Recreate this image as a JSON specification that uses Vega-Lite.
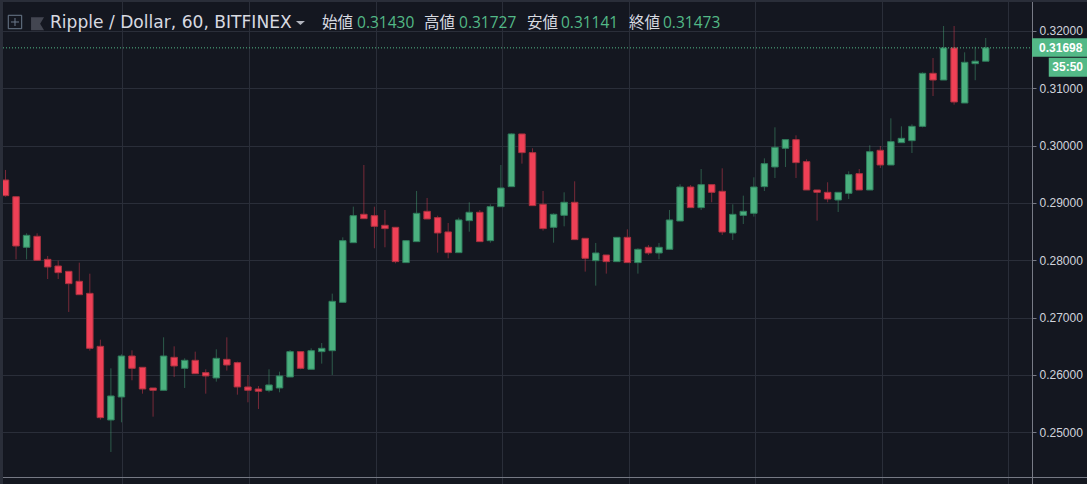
{
  "$schema": "https://vega.github.io/schema/vega-lite/v6.json",
  "description": "Ripple / Dollar 60 minute candles on Bitfinex",
  "autosize": "none",
  "background": "#141720",
  "width": 1032,
  "height": 484,
  "padding": {"left": 0, "top": 0, "right": 55, "bottom": 0},
  "config": {"view": {"stroke": null}, "scale": {"continuousPadding": 0}},
  "datasets": {
    "candles": [
      {"i":1,"o":0.29401,"h":0.29576,"l":0.2911,"c":0.29128},
      {"i":2,"o":0.2911,"h":0.2911,"l":0.28017,"c":0.2825},
      {"i":3,"o":0.28227,"h":0.28471,"l":0.28017,"c":0.28436},
      {"i":4,"o":0.28419,"h":0.28471,"l":0.27994,"c":0.28},
      {"i":5,"o":0.28017,"h":0.28076,"l":0.27674,"c":0.27884},
      {"i":6,"o":0.27901,"h":0.27994,"l":0.27674,"c":0.27785},
      {"i":7,"o":0.27808,"h":0.27808,"l":0.27099,"c":0.27593},
      {"i":8,"o":0.27634,"h":0.27959,"l":0.27401,"c":0.27401},
      {"i":9,"o":0.27424,"h":0.27767,"l":0.26424,"c":0.26465},
      {"i":10,"o":0.265,"h":0.26616,"l":0.25221,"c":0.25256},
      {"i":11,"o":0.25215,"h":0.26116,"l":0.24657,"c":0.25634},
      {"i":12,"o":0.25616,"h":0.2636,"l":0.25174,"c":0.26331},
      {"i":13,"o":0.26331,"h":0.2643,"l":0.25907,"c":0.26116},
      {"i":14,"o":0.26134,"h":0.26134,"l":0.25674,"c":0.25756},
      {"i":15,"o":0.25773,"h":0.25773,"l":0.25273,"c":0.25733},
      {"i":16,"o":0.25733,"h":0.26657,"l":0.25733,"c":0.26331},
      {"i":17,"o":0.26308,"h":0.265,"l":0.25965,"c":0.26157},
      {"i":18,"o":0.26116,"h":0.26291,"l":0.25773,"c":0.26256},
      {"i":19,"o":0.26256,"h":0.26407,"l":0.26017,"c":0.26023},
      {"i":20,"o":0.26041,"h":0.26099,"l":0.25674,"c":0.25983},
      {"i":21,"o":0.25948,"h":0.26448,"l":0.25884,"c":0.26291},
      {"i":22,"o":0.26273,"h":0.26657,"l":0.26076,"c":0.26174},
      {"i":23,"o":0.26215,"h":0.26233,"l":0.25657,"c":0.25791},
      {"i":24,"o":0.25791,"h":0.26,"l":0.25523,"c":0.25733},
      {"i":25,"o":0.25756,"h":0.25808,"l":0.25407,"c":0.25715},
      {"i":26,"o":0.25733,"h":0.26099,"l":0.25698,"c":0.25826},
      {"i":27,"o":0.25773,"h":0.26058,"l":0.25698,"c":0.25983},
      {"i":28,"o":0.25965,"h":0.26436,"l":0.25965,"c":0.26407},
      {"i":29,"o":0.26407,"h":0.26407,"l":0.26099,"c":0.26116},
      {"i":30,"o":0.26099,"h":0.26465,"l":0.26099,"c":0.26424},
      {"i":31,"o":0.26407,"h":0.26558,"l":0.26198,"c":0.26465},
      {"i":32,"o":0.26424,"h":0.27419,"l":0.26,"c":0.27285},
      {"i":33,"o":0.27267,"h":0.28401,"l":0.27267,"c":0.28343},
      {"i":34,"o":0.28308,"h":0.28936,"l":0.28308,"c":0.28779},
      {"i":35,"o":0.28803,"h":0.29663,"l":0.28727,"c":0.28727},
      {"i":36,"o":0.28779,"h":0.28936,"l":0.2821,"c":0.28593},
      {"i":37,"o":0.28611,"h":0.28878,"l":0.28227,"c":0.28553},
      {"i":38,"o":0.28576,"h":0.28576,"l":0.27948,"c":0.27977},
      {"i":39,"o":0.2796,"h":0.28355,"l":0.2796,"c":0.28343},
      {"i":40,"o":0.28326,"h":0.2921,"l":0.28326,"c":0.2882},
      {"i":41,"o":0.28855,"h":0.29088,"l":0.28721,"c":0.28721},
      {"i":42,"o":0.28745,"h":0.28779,"l":0.28134,"c":0.28477},
      {"i":43,"o":0.28495,"h":0.28651,"l":0.28035,"c":0.28134},
      {"i":44,"o":0.28134,"h":0.28745,"l":0.28134,"c":0.28704},
      {"i":45,"o":0.28692,"h":0.29012,"l":0.285,"c":0.28838},
      {"i":46,"o":0.28838,"h":0.28878,"l":0.28326,"c":0.28326},
      {"i":47,"o":0.28343,"h":0.28977,"l":0.28308,"c":0.28936},
      {"i":48,"o":0.28936,"h":0.29663,"l":0.28936,"c":0.29262},
      {"i":49,"o":0.29285,"h":0.30215,"l":0.29285,"c":0.30204},
      {"i":50,"o":0.30204,"h":0.30204,"l":0.29686,"c":0.29878},
      {"i":51,"o":0.29878,"h":0.29954,"l":0.28954,"c":0.28954},
      {"i":52,"o":0.28977,"h":0.2921,"l":0.28518,"c":0.28553},
      {"i":53,"o":0.28576,"h":0.2882,"l":0.28308,"c":0.28803},
      {"i":54,"o":0.28785,"h":0.29186,"l":0.28593,"c":0.29012},
      {"i":55,"o":0.29012,"h":0.29378,"l":0.28361,"c":0.28361},
      {"i":56,"o":0.28384,"h":0.28384,"l":0.27803,"c":0.28035},
      {"i":57,"o":0.27994,"h":0.28303,"l":0.27558,"c":0.28128},
      {"i":58,"o":0.28093,"h":0.28093,"l":0.27768,"c":0.27977},
      {"i":59,"o":0.27977,"h":0.28401,"l":0.27977,"c":0.28401},
      {"i":60,"o":0.28401,"h":0.28541,"l":0.2796,"c":0.2796},
      {"i":61,"o":0.2796,"h":0.2821,"l":0.27768,"c":0.28192},
      {"i":62,"o":0.28227,"h":0.28268,"l":0.28093,"c":0.28128},
      {"i":63,"o":0.28128,"h":0.28303,"l":0.28018,"c":0.28227},
      {"i":64,"o":0.28192,"h":0.28878,"l":0.28192,"c":0.28704},
      {"i":65,"o":0.28686,"h":0.29326,"l":0.28686,"c":0.29279},
      {"i":66,"o":0.29279,"h":0.29314,"l":0.28919,"c":0.28919},
      {"i":67,"o":0.28919,"h":0.29593,"l":0.28878,"c":0.2932},
      {"i":68,"o":0.2932,"h":0.2932,"l":0.29012,"c":0.29186},
      {"i":69,"o":0.29204,"h":0.29605,"l":0.28442,"c":0.28494},
      {"i":70,"o":0.28477,"h":0.28977,"l":0.28355,"c":0.28802},
      {"i":71,"o":0.28785,"h":0.29128,"l":0.28634,"c":0.28855},
      {"i":72,"o":0.2882,"h":0.29448,"l":0.28762,"c":0.29279},
      {"i":73,"o":0.29285,"h":0.29779,"l":0.29209,"c":0.29686},
      {"i":74,"o":0.29628,"h":0.3032,"l":0.29436,"c":0.29971},
      {"i":75,"o":0.29954,"h":0.30105,"l":0.29628,"c":0.30105},
      {"i":76,"o":0.30105,"h":0.3018,"l":0.29436,"c":0.29704},
      {"i":77,"o":0.29721,"h":0.29762,"l":0.29227,"c":0.29227},
      {"i":78,"o":0.29227,"h":0.29227,"l":0.28692,"c":0.29186},
      {"i":79,"o":0.29186,"h":0.29361,"l":0.29012,"c":0.2907},
      {"i":80,"o":0.29052,"h":0.29186,"l":0.28843,"c":0.29186},
      {"i":81,"o":0.29169,"h":0.29552,"l":0.2907,"c":0.29494},
      {"i":82,"o":0.29512,"h":0.29593,"l":0.29227,"c":0.29227},
      {"i":83,"o":0.29227,"h":0.30006,"l":0.29227,"c":0.29895},
      {"i":84,"o":0.29919,"h":0.29994,"l":0.29611,"c":0.29663},
      {"i":85,"o":0.29663,"h":0.30477,"l":0.29663,"c":0.3007},
      {"i":86,"o":0.30052,"h":0.30337,"l":0.30052,"c":0.30128},
      {"i":87,"o":0.30087,"h":0.30372,"l":0.29872,"c":0.30337},
      {"i":88,"o":0.30337,"h":0.31279,"l":0.3032,"c":0.31262},
      {"i":89,"o":0.31262,"h":0.31529,"l":0.30866,"c":0.31145},
      {"i":90,"o":0.31145,"h":0.32087,"l":0.31145,"c":0.31704},
      {"i":91,"o":0.31704,"h":0.32087,"l":0.30715,"c":0.30762},
      {"i":92,"o":0.30744,"h":0.31628,"l":0.30744,"c":0.31454},
      {"i":93,"o":0.3143,"h":0.31727,"l":0.31141,"c":0.31473},
      {"i":94,"o":0.31473,"h":0.31878,"l":0.31473,"c":0.31706}
    ],
    "frame": [
      {"x0":0.478,"x1":0.763,"p0":0.240984,"p1":0.325407,"color":"#2a2e39"},
      {"x0":0.478,"x1":103.61,"p0":0.32506,"p1":0.325407,"color":"#2a2e39"},
      {"x0":98.39,"x1":103.61,"p0":0.31552,"p1":0.31873,"color":"#53b987"},
      {"x0":99.98,"x1":103.61,"p0":0.31203,"p1":0.31534,"color":"#53b987"}
    ],
    "header": [
      {"text":"始値","x":31.03,"p":0.3214,"color":"#d8dae0"},
      {"text":"0.31430","x":34.35,"p":0.3214,"color":"#53b987"},
      {"text":"高値","x":40.71,"p":0.3214,"color":"#d8dae0"},
      {"text":"0.31727","x":44.03,"p":0.3214,"color":"#53b987"},
      {"text":"安値","x":50.48,"p":0.3214,"color":"#d8dae0"},
      {"text":"0.31141","x":53.7,"p":0.3214,"color":"#53b987"},
      {"text":"終値","x":60.16,"p":0.3214,"color":"#d8dae0"},
      {"text":"0.31473","x":63.38,"p":0.3214,"color":"#53b987"}
    ],
    "tags": [
      {"text":"0.31698","x":99.06,"p":0.31712},
      {"text":"35:50","x":100.32,"p":0.31372}
    ]
  },
  "layer": [
    {
      "data": {"name": "candles"},
      "mark": {"type": "rule", "strokeWidth": 1, "opacity": 0.45},
      "encoding": {
        "x": {
          "field": "i",
          "type": "quantitative",
          "title": null,
          "scale": {"domain": [0.478, 98.39], "nice": false, "zero": false, "padding": 0},
          "axis": {
            "orient": "bottom",
            "values": [12.09, 24.1, 36.11, 48.12, 60.13, 72.14, 84.15, 96.16],
            "labels": false,
            "ticks": false,
            "domain": false,
            "grid": true,
            "gridColor": "#2a2e39",
            "gridOpacity": 1
          }
        },
        "y": {
          "field": "l",
          "type": "quantitative",
          "title": null,
          "scale": {"domain": [0.240984, 0.325407], "nice": false, "zero": false},
          "axis": {
            "orient": "right",
            "values": [0.25, 0.26, 0.27, 0.28, 0.29, 0.3, 0.31, 0.32],
            "format": ".5f",
            "grid": true,
            "gridColor": "#2a2e39",
            "gridOpacity": 1,
            "domainColor": "#787b86",
            "tickColor": "#787b86",
            "tickSize": 4,
            "labelPadding": 3,
            "labelColor": "#d1d4dc",
            "labelFont": "Liberation Sans",
            "labelFontSize": 12
          }
        },
        "y2": {"field": "h"},
        "color": {
          "condition": {"test": "datum.o < datum.c", "value": "#4bb07f"},
          "value": "#ef4056"
        }
      }
    },
    {
      "data": {"name": "candles"},
      "mark": {"type": "bar", "size": 6.5, "strokeWidth": 1},
      "encoding": {
        "x": {"field": "i", "type": "quantitative", "title": null},
        "y": {"field": "o", "type": "quantitative", "title": null},
        "y2": {"field": "c"},
        "color": {
          "condition": {"test": "datum.o < datum.c", "value": "#4bb07f"},
          "value": "#ef4056"
        },
        "stroke": {
          "condition": {"test": "datum.o < datum.c", "value": "#2f7d5c"},
          "value": "#a8323f"
        }
      }
    },
    {
      "data": {"values": [{"x0": 0.478, "x1": 98.39, "p": 0.31706}]},
      "mark": {"type": "rule", "color": "#53b987", "strokeWidth": 1, "strokeDash": [1, 2]},
      "encoding": {
        "x": {"field": "x0", "type": "quantitative", "title": null},
        "x2": {"field": "x1"},
        "y": {"field": "p", "type": "quantitative", "title": null}
      }
    },
    {
      "data": {"values": [{"x0": 0.763, "x1": 103.61, "p": 0.24212}]},
      "mark": {"type": "rule", "color": "#787b86", "strokeWidth": 1},
      "encoding": {
        "x": {"field": "x0", "type": "quantitative", "title": null},
        "x2": {"field": "x1"},
        "y": {"field": "p", "type": "quantitative", "title": null}
      }
    },
    {
      "data": {"name": "frame"},
      "mark": {"type": "rect"},
      "encoding": {
        "x": {"field": "x0", "type": "quantitative", "title": null},
        "x2": {"field": "x1"},
        "y": {"field": "p0", "type": "quantitative", "title": null},
        "y2": {"field": "p1"},
        "color": {"field": "color", "type": "nominal", "scale": null}
      }
    },
    {
      "data": {"values": [{"text": "Ripple / Dollar, 60, BITFINEX", "x": 5.22, "p": 0.3214}]},
      "mark": {
        "type": "text",
        "align": "left",
        "baseline": "middle",
        "font": "DejaVu Sans",
        "fontSize": 17.1,
        "color": "#d8dae0"
      },
      "encoding": {
        "x": {"field": "x", "type": "quantitative", "title": null},
        "y": {"field": "p", "type": "quantitative", "title": null},
        "text": {"field": "text"}
      }
    },
    {
      "data": {"name": "header"},
      "mark": {
        "type": "text",
        "align": "left",
        "baseline": "middle",
        "font": "Open Sans, Noto Sans CJK JP",
        "fontSize": 15.5
      },
      "encoding": {
        "x": {"field": "x", "type": "quantitative", "title": null},
        "y": {"field": "p", "type": "quantitative", "title": null},
        "text": {"field": "text"},
        "color": {"field": "color", "type": "nominal", "scale": null}
      }
    },
    {
      "data": {"name": "tags"},
      "mark": {
        "type": "text",
        "align": "left",
        "baseline": "middle",
        "font": "Liberation Sans",
        "fontWeight": "bold",
        "fontSize": 12,
        "color": "#ffffff"
      },
      "encoding": {
        "x": {"field": "x", "type": "quantitative", "title": null},
        "y": {"field": "p", "type": "quantitative", "title": null},
        "text": {"field": "text"}
      }
    },
    {
      "data": {"values": [{"x": 28.98, "p": 0.3214}]},
      "mark": {
        "type": "point",
        "shape": "M-1 -0.45H1L0 0.45Z",
        "filled": true,
        "size": 81,
        "color": "#b2b5be",
        "opacity": 1
      },
      "encoding": {
        "x": {"field": "x", "type": "quantitative", "title": null},
        "y": {"field": "p", "type": "quantitative", "title": null}
      }
    },
    {
      "data": {"values": [{"x": 1.9, "p": 0.32157}]},
      "mark": {
        "type": "point",
        "shape": "M-1 -1H1V1H-1Z M0 -0.6V0.6 M-0.6 0H0.6",
        "filled": false,
        "size": 180,
        "stroke": "#6b7a8c",
        "strokeWidth": 1,
        "opacity": 1
      },
      "encoding": {
        "x": {"field": "x", "type": "quantitative", "title": null},
        "y": {"field": "p", "type": "quantitative", "title": null}
      }
    },
    {
      "data": {"values": [{"x": 4.04, "p": 0.32127}]},
      "mark": {
        "type": "point",
        "shape": "M-1 -1H1L0.4 0L1 1H-1Z",
        "filled": true,
        "size": 169,
        "color": "#434651",
        "opacity": 1
      },
      "encoding": {
        "x": {"field": "x", "type": "quantitative", "title": null},
        "y": {"field": "p", "type": "quantitative", "title": null}
      }
    }
  ]
}
